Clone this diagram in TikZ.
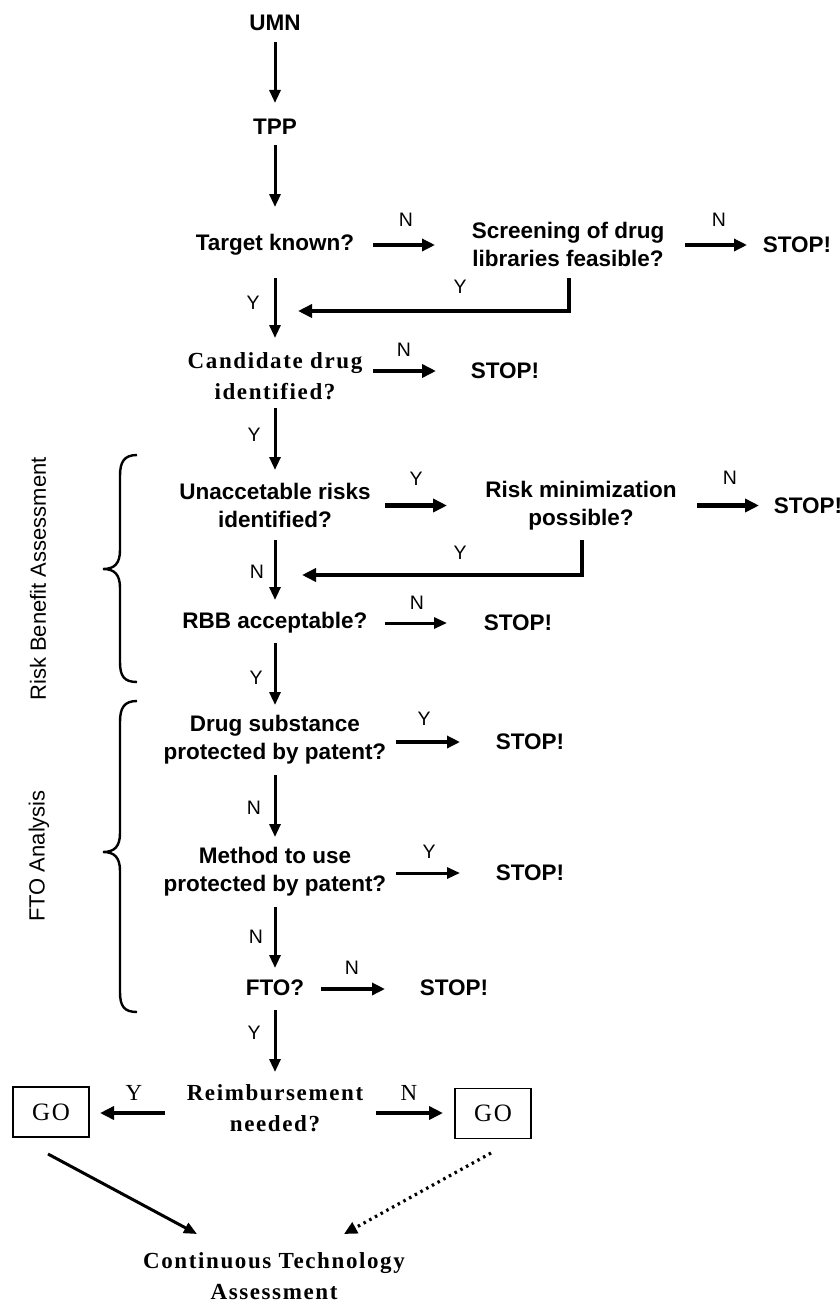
\documentclass[tikz,border=0pt]{standalone}
\usepackage{fontspec}
\setmainfont{Liberation Serif}
\setsansfont{Liberation Sans}
\newfontfamily\lsans{Liberation Sans}
\newfontfamily\lserifsp[LetterSpace=7]{Liberation Serif}
\usetikzlibrary{arrows.meta}
\begin{document}
\begin{tikzpicture}[x=1pt,y=-1pt,
  q/.style={font={\lsans\bfseries\fontsize{22.5}{28}\selectfont}, align=center, inner sep=0pt},
  sq/.style={font={\lserifsp\bfseries\fontsize{23}{31}\selectfont}, align=center, inner sep=0pt},
  lab/.style={font={\lsans\fontsize{19.5}{22}\selectfont}, inner sep=0pt},
  slab/.style={font={\lserifsp\fontsize{23}{26}\selectfont}, inner sep=0pt},
  rot/.style={font={\lsans\fontsize{22}{26}\selectfont}, rotate=90, inner sep=0pt},
  gobox/.style={draw, line width=1.3pt, minimum width=76pt, minimum height=50pt, inner sep=0pt, font={\lserifsp\fontsize{25}{28}\selectfont}},
  arr/.style={line width=3pt, -{Triangle[length=13pt,width=11pt]}},
  marr/.style={line width=3.6pt, -{Triangle[length=13pt,width=12pt]}},
  tarr/.style={line width=4.8pt, -{Triangle[length=14pt,width=13pt]}},
  brace/.style={line width=2.4pt}
]
\useasboundingbox (0,0) rectangle (840,1303);

% nodes
\node[q] (umn) at (275,23) {UMN};
\node[q] (tpp) at (275,127) {TPP};
\node[q] (target) at (275,245) {Target known?};
\node[q] (screen) at (568,244) {Screening of drug\\libraries feasible?};
\node[q] (stop1) at (797,245) {STOP!};
\node[sq] (cand) at (275,376.5) {Candidate drug\\identified?};
\node[q] (stop2) at (505,371) {STOP!};
\node[q] (unacc) at (275,505.5) {Unaccetable risks\\identified?};
\node[q] (riskmin) at (581,505.5) {Risk minimization\\possible?};
\node[q] (stop3) at (808,505.5) {STOP!};
\node[q] (rbb) at (275,623) {RBB acceptable?};
\node[q] (stop4) at (518,623) {STOP!};
\node[q] (drug) at (275,740) {Drug substance\\protected by patent?};
\node[q] (stop5) at (530,742) {STOP!};
\node[q] (method) at (275,871.5) {Method to use\\protected by patent?};
\node[q] (stop6) at (530,873) {STOP!};
\node[q] (fto) at (275,988) {FTO?};
\node[q] (stop7) at (454,988) {STOP!};
\node[sq] (reimb) at (275,1108.5) {Reimbursement\\needed?};
\node[gobox] (goL) at (51,1112) {GO};
\node[gobox] (goR) at (493,1113.5) {GO};
\node[sq] (cta) at (274,1276) {Continuous Technology\\Assessment};

% side labels
\node[rot] (rba) at (38,579) {Risk Benefit Assessment};
\node[rot] (ftoa) at (39,856) {FTO Analysis};

% braces
\draw[brace] (137,455) .. controls (124,455) and (120,462) .. (120,476) -- (120,550)
  .. controls (120,563) and (115,569) .. (103,569)
  .. controls (115,569) and (120,575) .. (120,588) -- (120,662)
  .. controls (120,676) and (124,682) .. (137,682);
\draw[brace] (137,701) .. controls (124,701) and (120,708) .. (120,722) -- (120,833)
  .. controls (120,846) and (115,852) .. (103,852)
  .. controls (115,852) and (120,858) .. (120,871) -- (120,992)
  .. controls (120,1006) and (124,1012) .. (137,1012);

% main column
\draw[arr] ([yshift=-19pt]umn.center) -- ([yshift=24pt]tpp.center);
\draw[arr] ([yshift=-18pt]tpp.center) -- ([yshift=38pt]target.center);
\draw[arr] ([yshift=-33pt]target.center) -- ([yshift=38.5pt]cand.center);
\draw[arr] ([yshift=-31.5pt]cand.center) -- ([yshift=35.5pt]unacc.center);
\draw[arr] ([yshift=-34.5pt]unacc.center) -- ([yshift=23pt]rbb.center);
\draw[arr] ([yshift=-20pt]rbb.center) -- ([yshift=35pt]drug.center);
\draw[arr] ([yshift=-35pt]drug.center) -- ([yshift=34.5pt]method.center);
\draw[arr] ([yshift=-35.5pt]method.center) -- ([yshift=20pt]fto.center);
\draw[arr] ([yshift=-22pt]fto.center) -- ([yshift=36.5pt]reimb.center);

% horizontal arrows
\draw[marr] ([xshift=98pt]target.center) -- ([xshift=-133pt,yshift=-1pt]screen.center);
\draw[marr] ([xshift=117pt,yshift=-1pt]screen.center) -- ([xshift=-50pt]stop1.center);
\draw[tarr] ([xshift=98pt,yshift=5.5pt]cand.center) -- ([xshift=-69pt]stop2.center);
\draw[tarr] ([xshift=110pt]unacc.center) -- ([xshift=-134pt]riskmin.center);
\draw[tarr] ([xshift=116pt]riskmin.center) -- ([xshift=-49pt]stop3.center);
\draw[arr] ([xshift=110pt]rbb.center) -- ([xshift=-71pt]stop4.center);
\draw[marr] ([xshift=121pt,yshift=-2pt]drug.center) -- ([xshift=-70pt]stop5.center);
\draw[arr] ([xshift=121pt,yshift=-1.5pt]method.center) -- ([xshift=-70pt]stop6.center);
\draw[marr] ([xshift=46pt,yshift=-1pt]fto.center) -- ([xshift=-69pt,yshift=-1pt]stop7.center);
\draw[tarr] ([xshift=-110pt,yshift=-4.5pt]reimb.center) -- ([xshift=49pt,yshift=-1pt]goL.center);
\draw[tarr] ([xshift=101pt,yshift=-4.5pt]reimb.center) -- ([xshift=-50pt,yshift=0.5pt]goR.center);

% return lines
\draw[tarr] ([xshift=1pt,yshift=-34pt]screen.center) |- ([xshift=23pt,yshift=-66pt]target.center);
\draw[tarr] ([xshift=1pt,yshift=-34.5pt]riskmin.center) |- ([xshift=27pt,yshift=-69.5pt]unacc.center);

% to final
\draw[arr] ([xshift=-3pt,yshift=-42pt]goL.center) -- ([xshift=-77pt,yshift=42pt]cta.center);
\draw[line width=3.2pt, dash pattern=on 2.5pt off 4pt, -{Triangle[length=13pt,width=12pt]}] ([xshift=-2pt,yshift=-39.5pt]goR.center) -- ([xshift=70pt,yshift=42pt]cta.center);

% labels
\node[lab] (l1) at (406,220) {N};
\node[lab] (l2) at (719,220) {N};
\node[lab] (l3) at (460,287) {Y};
\node[lab] (l4) at (253,303) {Y};
\node[lab] (l5) at (404,350) {N};
\node[lab] (l6) at (254,435) {Y};
\node[lab] (l7) at (416,479) {Y};
\node[lab] (l8) at (730,478) {N};
\node[lab] (l9) at (460,553) {Y};
\node[lab] (l10) at (257,572) {N};
\node[lab] (l11) at (417,603) {N};
\node[lab] (l12) at (256,678) {Y};
\node[lab] (l13) at (424,719) {Y};
\node[lab] (l14) at (254,808) {N};
\node[lab] (l15) at (429,852) {Y};
\node[lab] (l16) at (256,937) {N};
\node[lab] (l17) at (352,968) {N};
\node[lab] (l18) at (254,1033) {Y};
\node[slab] (l19) at (134,1093) {Y};
\node[slab] (l20) at (409,1093) {N};
\end{tikzpicture}
\end{document}
